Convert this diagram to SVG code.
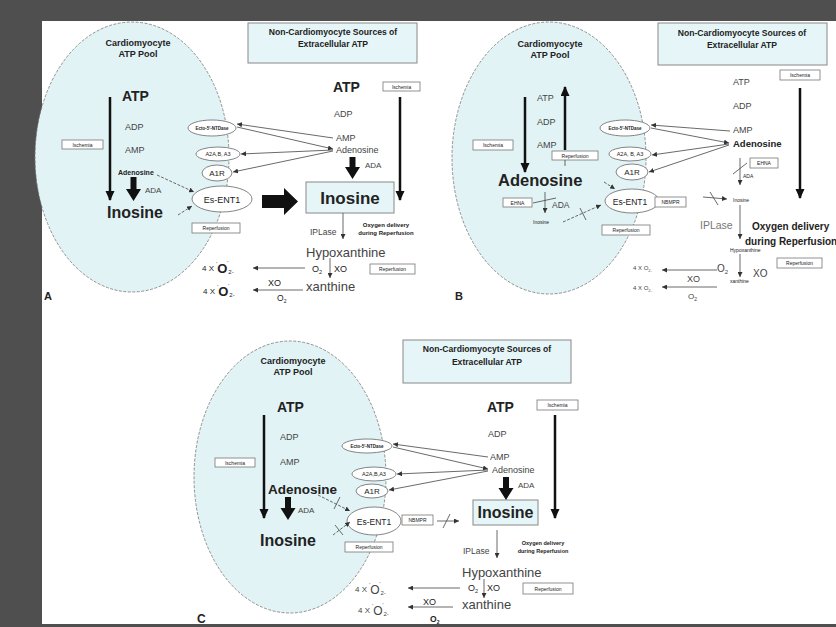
<svg xmlns="http://www.w3.org/2000/svg" width="836" height="627" viewBox="0 0 836 627">
<style>
text{font-family:"Liberation Sans",Arial,sans-serif;fill:#222}
.b{font-weight:bold}
.g{fill:#444}
.lt{fill:#777}
.m{text-anchor:middle}
.cell{fill:#e2f3f6;stroke:#777;stroke-width:0.8;stroke-dasharray:3 1.5}
.title{fill:#e6f6f8;stroke:#888;stroke-width:1}
.box{fill:#fff;stroke:#777;stroke-width:0.8}
.rec{fill:#fff;stroke:#666;stroke-width:0.8}
.ln{stroke:#444;stroke-width:0.8;fill:none}
.dl{stroke:#444;stroke-width:0.8;fill:none;stroke-dasharray:3 1.5}
.thk{stroke:#111;stroke-width:2.5;fill:none}
.blk{fill:#111}
</style>
<defs>
<marker id="ah" markerUnits="userSpaceOnUse" markerWidth="5" markerHeight="5" refX="5" refY="2.5" orient="auto"><path d="M0,0 L5,2.5 L0,5 z" fill="#333"/></marker>
<marker id="big" markerUnits="userSpaceOnUse" markerWidth="10" markerHeight="10" refX="9" refY="4.5" orient="auto"><path d="M0,0 L10,4.5 L0,9 z" fill="#111"/></marker>
</defs>
<rect x="0" y="0" width="836" height="627" fill="#fff"/>
<rect x="0" y="0" width="836" height="21" fill="#4f4f4f"/>
<rect x="0" y="0" width="42" height="627" fill="#4f4f4f"/>
<rect x="0" y="624" width="836" height="3" fill="#4f4f4f"/>

<!-- ================= PANEL A ================= -->
<g id="A-cell"><ellipse class="cell" cx="132" cy="157" rx="97" ry="135"/>
<text class="b m" x="138" y="46" font-size="9">Cardiomyocyte</text><text class="b m" x="138" y="57" font-size="9">ATP Pool</text></g>
<g id="A-title"><rect class="title" x="248" y="23" width="169" height="40"/>
<text class="b m" x="333" y="35" font-size="8.6">Non-Cardiomyocyte Sources of</text><text class="b m" x="333" y="47" font-size="8.6">Extracellular  ATP</text></g>
<g id="A-atp"><text class="b" x="122" y="101" font-size="14">ATP</text></g>
<g id="A-adp"><text class="g" x="125" y="130" font-size="9">ADP</text></g>
<g id="A-amp"><text class="g" x="125" y="153" font-size="9">AMP</text></g>
<g id="A-isch"><rect class="box" x="62" y="140" width="41" height="9"/><text class="m" x="82.5" y="146.7" font-size="5">Ischemia</text></g>
<g id="A-ado"><text class="b" x="118" y="175" font-size="7">Adenosine</text></g>
<g id="A-ada"><text class="g" x="145" y="193" font-size="8">ADA</text></g>
<g id="A-ino"><text class="b" x="107" y="218" font-size="16">Inosine</text></g>
<g id="A-ecto"><ellipse class="rec" cx="212" cy="128" rx="24" ry="8"/><text class="b m" x="212" y="129.7" font-size="4.5">Ecto-5'-NTDase</text></g>
<g id="A-a2a"><ellipse class="rec" cx="218" cy="154" rx="22" ry="7"/><text class="m" x="218" y="156" font-size="5.5">A2A,B, A3</text></g>
<g id="A-a1r"><ellipse class="rec" cx="217" cy="173" rx="15" ry="8"/><text class="m" x="217" y="176" font-size="8">A1R</text></g>
<g id="A-ent"><ellipse class="rec" cx="222" cy="199" rx="30" ry="13"/><text class="m" x="222" y="202.5" font-size="9">Es-ENT1</text></g>
<g id="A-rep1"><rect class="box" x="192" y="223" width="48" height="10"/><text class="m" x="216" y="230" font-size="5">Reperfusion</text></g>
<g id="A-atp2"><text class="b" x="333" y="92" font-size="14">ATP</text></g>
<g id="A-isch2"><rect class="box" x="383" y="82" width="37" height="9"/><text class="m" x="401.5" y="88.7" font-size="4.8">Ischemia</text></g>
<g id="A-adp2"><text class="g" x="334" y="117" font-size="9">ADP</text></g>
<g id="A-amp2"><text class="g" x="336" y="141" font-size="9">AMP</text></g>
<g id="A-ado2"><text class="g" x="336" y="153" font-size="9">Adenosine</text></g>
<g id="A-ada2"><text class="g" x="365" y="168" font-size="8">ADA</text></g>
<g id="A-ino2"><rect class="title" x="306" y="182" width="88" height="31"/><text class="b m" x="350" y="204" font-size="17">Inosine</text></g>
<g id="A-ipl"><text class="g" x="310" y="235" font-size="8.5">IPLase</text></g>
<g id="A-oxy"><text class="b m" x="386" y="227" font-size="6">Oxygen delivery</text><text class="b m" x="386" y="235" font-size="6">during Reperfusion</text></g>
<g id="A-hyp"><text class="g" x="306" y="257" font-size="13">Hypoxanthine</text></g>
<g id="A-o2a"><text x="312" y="272" font-size="9">O<tspan font-size="5.5" dy="2">2</tspan></text></g>
<g id="A-xo1"><text x="334" y="272" font-size="9">XO</text></g>
<g id="A-rep2"><rect class="box" x="370" y="264" width="45" height="10"/><text class="m" x="392.5" y="271" font-size="5">Reperfusion</text></g>
<g id="A-sup1"><text x="202" y="271" font-size="8">4 X <tspan font-size="5" dy="-5">'</tspan><tspan class="b" font-size="13" dy="7">O</tspan><tspan font-size="5" dy="-8">'</tspan><tspan font-size="6" dy="9">2-</tspan></text></g>
<g id="A-xo2"><text x="268" y="286" font-size="9">XO</text></g>
<g id="A-xan"><text class="g" x="306" y="291" font-size="13">xanthine</text></g>
<g id="A-sup2"><text x="203" y="294" font-size="8">4 X <tspan font-size="5" dy="-5">'</tspan><tspan class="b" font-size="13" dy="7">O</tspan><tspan font-size="5" dy="-8">'</tspan><tspan font-size="6" dy="9">2-</tspan></text></g>
<g id="A-o2b"><text x="277" y="301" font-size="8.5">O<tspan font-size="5" dy="2">2</tspan></text></g>
<g id="A-label"><text class="b" x="44" y="300" font-size="11">A</text></g>

<!-- ================= PANEL B ================= -->
<g id="B-cell"><ellipse class="cell" cx="549" cy="158" rx="97" ry="136"/>
<text class="b m" x="550" y="47" font-size="9">Cardiomyocyte</text><text class="b m" x="550" y="58" font-size="9">ATP Pool</text></g>
<g id="B-title"><rect class="title" x="658" y="23" width="169" height="42"/>
<text class="b m" x="742" y="36" font-size="8.6">Non-Cardiomyocyte Sources of</text><text class="b m" x="742" y="48" font-size="8.6">Extracellular  ATP</text></g>
<g id="B-atp"><text class="g" x="537" y="101" font-size="9">ATP</text></g>
<g id="B-adp"><text class="g" x="537" y="125" font-size="9">ADP</text></g>
<g id="B-amp"><text class="g" x="537" y="148" font-size="9">AMP</text></g>
<g id="B-isch"><rect class="box" x="473" y="140" width="40" height="10"/><text class="m" x="493" y="147" font-size="5">Ischemia</text></g>
<g id="B-rep0"><rect class="box" x="552" y="151" width="46" height="9"/><text class="m" x="575" y="157.5" font-size="5">Reperfusion</text></g>
<g id="B-ado"><text class="b" x="498" y="186" font-size="16.5">Adenosine</text></g>
<g id="B-ehna"><rect class="box" x="503" y="198" width="29" height="9"/><text class="m" x="517.5" y="204.7" font-size="5">EHNA</text></g>
<g id="B-ada"><text class="g" x="552" y="208" font-size="8.5">ADA</text></g>
<g id="B-ino"><text x="533" y="224" font-size="5">Inosine</text></g>
<g id="B-ecto"><ellipse class="rec" cx="625" cy="128" rx="25" ry="8"/><text class="b m" x="625" y="129.7" font-size="4.5">Ecto-5'-NTDase</text></g>
<g id="B-a2a"><ellipse class="rec" cx="630" cy="154" rx="21" ry="7"/><text class="m" x="630" y="156" font-size="5.5">A2A, B, A3</text></g>
<g id="B-a1r"><ellipse class="rec" cx="632" cy="172" rx="16" ry="8"/><text class="m" x="632" y="175" font-size="8">A1R</text></g>
<g id="B-ent"><ellipse class="rec" cx="632" cy="201" rx="27" ry="12"/><text class="m" x="630" y="204.5" font-size="8.5">Es-ENT1</text></g>
<g id="B-nbmpr"><rect class="box" x="655" y="197" width="31" height="10"/><text class="m" x="670.5" y="204" font-size="5">NBMPR</text></g>
<g id="B-rep1"><rect class="box" x="602" y="225" width="48" height="10"/><text class="m" x="626" y="232" font-size="5">Reperfusion</text></g>
<g id="B-atp2"><text class="g" x="733" y="85" font-size="9">ATP</text></g>
<g id="B-isch2"><rect class="box" x="780" y="70" width="40" height="10"/><text class="m" x="800" y="77" font-size="5">Ischemia</text></g>
<g id="B-adp2"><text class="g" x="733" y="109" font-size="9">ADP</text></g>
<g id="B-amp2"><text class="g" x="733" y="133" font-size="9">AMP</text></g>
<g id="B-ado2"><text class="b" x="733" y="147" font-size="9.5">Adenosine</text></g>
<g id="B-ehna2"><rect class="box" x="750" y="158" width="28" height="10"/><text class="m" x="764" y="165" font-size="5">EHNA</text></g>
<g id="B-ada2"><text x="743" y="178" font-size="5">ADA</text></g>
<g id="B-ino2"><text x="733" y="202" font-size="5">Inosine</text></g>
<g id="B-ipl"><text class="lt" x="700" y="229" font-size="10.5">IPLase</text></g>
<g id="B-oxy"><text class="b" x="752" y="230" font-size="10">Oxygen delivery</text><text class="b" x="745" y="245" font-size="10">during Reperfusion</text></g>
<g id="B-hyp"><text x="730" y="252" font-size="5">Hypoxanthine</text></g>
<g id="B-o2a"><text class="g" x="717" y="272" font-size="10">O<tspan font-size="6" dy="2">2</tspan></text></g>
<g id="B-xo1"><text class="g" x="753" y="277" font-size="10">XO</text></g>
<g id="B-rep2"><rect class="box" x="777" y="258" width="45" height="10"/><text class="m" x="799.5" y="265" font-size="5">Reperfusion</text></g>
<g id="B-sup1"><text class="g" x="633" y="270" font-size="6">4 X O<tspan font-size="4" dy="1.5">2-</tspan></text></g>
<g id="B-xo2"><text class="g" x="687" y="282" font-size="9">XO</text></g>
<g id="B-xan"><text x="730" y="283" font-size="5">xanthine</text></g>
<g id="B-sup2"><text class="g" x="633" y="290" font-size="6">4 X O<tspan font-size="4" dy="1.5">2-</tspan></text></g>
<g id="B-o2b"><text class="g" x="688" y="299" font-size="8">O<tspan font-size="5" dy="1.5">2</tspan></text></g>
<g id="B-label"><text class="b" x="455" y="300" font-size="11">B</text></g>

<!-- ================= PANEL C ================= -->
<g id="C-cell"><ellipse class="cell" cx="290" cy="477" rx="96" ry="136"/>
<text class="b m" x="293" y="364" font-size="9">Cardiomyocyte</text><text class="b m" x="293" y="375" font-size="9">ATP Pool</text></g>
<g id="C-title"><rect class="title" x="403" y="340" width="168" height="43"/>
<text class="b m" x="487" y="352" font-size="8.6">Non-Cardiomyocyte Sources of</text><text class="b m" x="487" y="365" font-size="8.6">Extracellular  ATP</text></g>
<g id="C-atp"><text class="b" x="277" y="412" font-size="14">ATP</text></g>
<g id="C-adp"><text class="g" x="280" y="440" font-size="9">ADP</text></g>
<g id="C-amp"><text class="g" x="280" y="465" font-size="9">AMP</text></g>
<g id="C-isch"><rect class="box" x="215" y="458" width="40" height="9"/><text class="m" x="235" y="464.7" font-size="5">Ischemia</text></g>
<g id="C-ado"><text class="b" x="268" y="494" font-size="13.5">Adenosine</text></g>
<g id="C-ada"><text class="g" x="298" y="513" font-size="8">ADA</text></g>
<g id="C-ino"><text class="b" x="260" y="546" font-size="16">Inosine</text></g>
<g id="C-ecto"><ellipse class="rec" cx="367" cy="446" rx="25" ry="7"/><text class="b m" x="367" y="447.7" font-size="4.5">Ecto-5'-NTDase</text></g>
<g id="C-a2a"><ellipse class="rec" cx="374" cy="474" rx="22" ry="7"/><text class="m" x="374" y="476" font-size="5.5">A2A,B,A3</text></g>
<g id="C-a1r"><ellipse class="rec" cx="372" cy="491" rx="16" ry="7"/><text class="m" x="372" y="494" font-size="8">A1R</text></g>
<g id="C-ent"><ellipse class="rec" cx="374" cy="521" rx="27" ry="14"/><text class="m" x="374" y="524.5" font-size="8.5">Es-ENT1</text></g>
<g id="C-nbmpr"><rect class="box" x="402" y="515" width="31" height="10"/><text class="m" x="417.5" y="522" font-size="5">NBMPR</text></g>
<g id="C-rep1"><rect class="box" x="345" y="542" width="48" height="10"/><text class="m" x="369" y="549" font-size="5">Reperfusion</text></g>
<g id="C-atp2"><text class="b" x="487" y="412" font-size="14">ATP</text></g>
<g id="C-isch2"><rect class="box" x="537" y="400" width="41" height="10"/><text class="m" x="557.5" y="407" font-size="5">Ischemia</text></g>
<g id="C-adp2"><text class="g" x="488" y="437" font-size="9">ADP</text></g>
<g id="C-amp2"><text class="g" x="490" y="460" font-size="9">AMP</text></g>
<g id="C-ado2"><text class="g" x="492" y="473" font-size="9">Adenosine</text></g>
<g id="C-ada2"><text class="g" x="518" y="488" font-size="8">ADA</text></g>
<g id="C-ino2"><rect class="title" x="473" y="500" width="65" height="25"/><text class="b m" x="505.5" y="518" font-size="16">Inosine</text></g>
<g id="C-ipl"><text class="g" x="463" y="554" font-size="8.5">IPLase</text></g>
<g id="C-oxy"><text class="b m" x="543" y="545" font-size="5.5">Oxygen delivery</text><text class="b m" x="543" y="553" font-size="5.5">during Reperfusion</text></g>
<g id="C-hyp"><text class="g" x="462" y="577" font-size="13">Hypoxanthine</text></g>
<g id="C-o2a"><text x="468" y="591" font-size="9">O<tspan font-size="5.5" dy="2">2</tspan></text></g>
<g id="C-xo1"><text x="487" y="591" font-size="9">XO</text></g>
<g id="C-rep2"><rect class="box" x="523" y="583" width="50" height="11"/><text class="m" x="548" y="590.5" font-size="5">Reperfusion</text></g>
<g id="C-sup1"><text class="g" x="355" y="592" font-size="8">4 X <tspan font-size="5" dy="-5">'</tspan><tspan font-size="12" dy="7">O</tspan><tspan font-size="5" dy="-8">'</tspan><tspan font-size="6" dy="9">2-</tspan></text></g>
<g id="C-xo2"><text x="423" y="605" font-size="9">XO</text></g>
<g id="C-xan"><text class="g" x="462" y="609" font-size="13">xanthine</text></g>
<g id="C-sup2"><text class="g" x="358" y="613" font-size="8">4 X <tspan font-size="5" dy="-5">'</tspan><tspan font-size="12" dy="7">O</tspan><tspan font-size="5" dy="-8">'</tspan><tspan font-size="6" dy="9">2-</tspan></text></g>
<g id="C-o2b"><text class="b" x="430" y="622" font-size="8.5">O<tspan font-size="5" dy="1.5">2</tspan></text></g>
<g id="C-label"><text class="b" x="197" y="623" font-size="12">C</text></g>

<!-- ================= CONNECTORS ================= -->
<g id="connectors">
<!-- Panel A -->
<line class="thk" x1="110" y1="97" x2="110" y2="200" marker-end="url(#big)"/>
<polygon class="blk" points="130.5,177 136.5,177 136.5,189 141,189 133.5,201 126,189 130.5,189"/>
<line class="dl" x1="157" y1="175" x2="194" y2="192" marker-end="url(#ah)"/>
<line class="dl" x1="178" y1="215" x2="192" y2="206" marker-end="url(#ah)"/>
<line class="thk" x1="400" y1="97" x2="400" y2="200" marker-end="url(#big)"/>
<line class="ln" x1="333" y1="138" x2="237" y2="124" marker-end="url(#ah)"/>
<line class="ln" x1="237" y1="127" x2="333" y2="149" marker-end="url(#ah)"/>
<line class="ln" x1="333" y1="150" x2="241" y2="154" marker-end="url(#ah)"/>
<line class="ln" x1="333" y1="151" x2="233" y2="172" marker-end="url(#ah)"/>
<polygon class="blk" points="349.5,157 355.5,157 355.5,167 360,167 352.5,179 345,167 349.5,167"/>
<polygon class="blk" points="262,195 284,195 284,188 298,201.5 284,215 284,208 262,208"/>
<line class="ln" x1="343" y1="213" x2="343" y2="239" marker-end="url(#ah)"/>
<line class="ln" x1="330" y1="258" x2="330" y2="278" marker-end="url(#ah)"/>
<line class="ln" x1="305" y1="268" x2="253" y2="268" marker-end="url(#ah)"/>
<line class="ln" x1="303" y1="290" x2="253" y2="290" marker-end="url(#ah)"/>
<!-- Panel B -->
<line class="thk" x1="525" y1="97" x2="525" y2="172" marker-end="url(#big)"/>
<line class="thk" x1="565" y1="150" x2="565" y2="87" marker-end="url(#big)"/>
<line class="ln" x1="565" y1="160" x2="565" y2="166"/>
<line class="ln" x1="545" y1="192" x2="545" y2="213" marker-end="url(#ah)"/>
<line class="ln" x1="533" y1="203" x2="556" y2="198"/>
<line class="dl" x1="563" y1="222" x2="601" y2="205" marker-end="url(#ah)"/>
<line class="ln" x1="580" y1="208" x2="586" y2="220"/>
<line class="dl" x1="604" y1="182" x2="615" y2="189" marker-end="url(#ah)"/>
<line class="thk" x1="800" y1="88" x2="800" y2="198" marker-end="url(#big)"/>
<line class="ln" x1="730" y1="131" x2="651" y2="125" marker-end="url(#ah)"/>
<line class="ln" x1="651" y1="128" x2="729" y2="143" marker-end="url(#ah)"/>
<line class="ln" x1="729" y1="144" x2="652" y2="155" marker-end="url(#ah)"/>
<line class="ln" x1="729" y1="145" x2="649" y2="172" marker-end="url(#ah)"/>
<line class="ln" x1="740" y1="158" x2="740" y2="185" marker-end="url(#ah)"/>
<line class="ln" x1="733" y1="174" x2="747" y2="163"/>
<line class="ln" x1="703" y1="197" x2="727" y2="199" marker-end="url(#ah)"/>
<line class="ln" x1="710" y1="192" x2="718" y2="205"/>
<line class="ln" x1="740" y1="205" x2="740" y2="239" marker-end="url(#ah)"/>
<line class="ln" x1="740" y1="254" x2="740" y2="277" marker-end="url(#ah)"/>
<line class="ln" x1="717" y1="270" x2="662" y2="270" marker-end="url(#ah)"/>
<line class="ln" x1="717" y1="287" x2="662" y2="287" marker-end="url(#ah)"/>
<!-- Panel C -->
<line class="thk" x1="264" y1="415" x2="264" y2="518" marker-end="url(#big)"/>
<polygon class="blk" points="285,497 291,497 291,508 295.5,508 288,520 280.5,508 285,508"/>
<line class="dl" x1="318" y1="495" x2="350" y2="511" marker-end="url(#ah)"/>
<line class="ln" x1="334" y1="509" x2="340" y2="497"/>
<line class="dl" x1="333" y1="535" x2="350" y2="522" marker-end="url(#ah)"/>
<line class="ln" x1="335" y1="525" x2="343" y2="535"/>
<line class="ln" x1="437" y1="521" x2="459" y2="521" marker-end="url(#ah)"/>
<line class="ln" x1="443" y1="528" x2="450" y2="514"/>
<line class="thk" x1="555" y1="415" x2="555" y2="518" marker-end="url(#big)"/>
<line class="ln" x1="488" y1="457" x2="393" y2="444" marker-end="url(#ah)"/>
<line class="ln" x1="393" y1="447" x2="488" y2="469" marker-end="url(#ah)"/>
<line class="ln" x1="488" y1="470" x2="397" y2="474" marker-end="url(#ah)"/>
<line class="ln" x1="488" y1="471" x2="389" y2="490" marker-end="url(#ah)"/>
<polygon class="blk" points="503,477 509,477 509,488 513.5,488 506,500 498.5,488 503,488"/>
<line class="ln" x1="497" y1="530" x2="497" y2="558" marker-end="url(#ah)"/>
<line class="ln" x1="484" y1="579" x2="484" y2="598" marker-end="url(#ah)"/>
<line class="ln" x1="460" y1="588" x2="408" y2="588" marker-end="url(#ah)"/>
<line class="ln" x1="453" y1="607" x2="408" y2="607" marker-end="url(#ah)"/>
</g>
</svg>
